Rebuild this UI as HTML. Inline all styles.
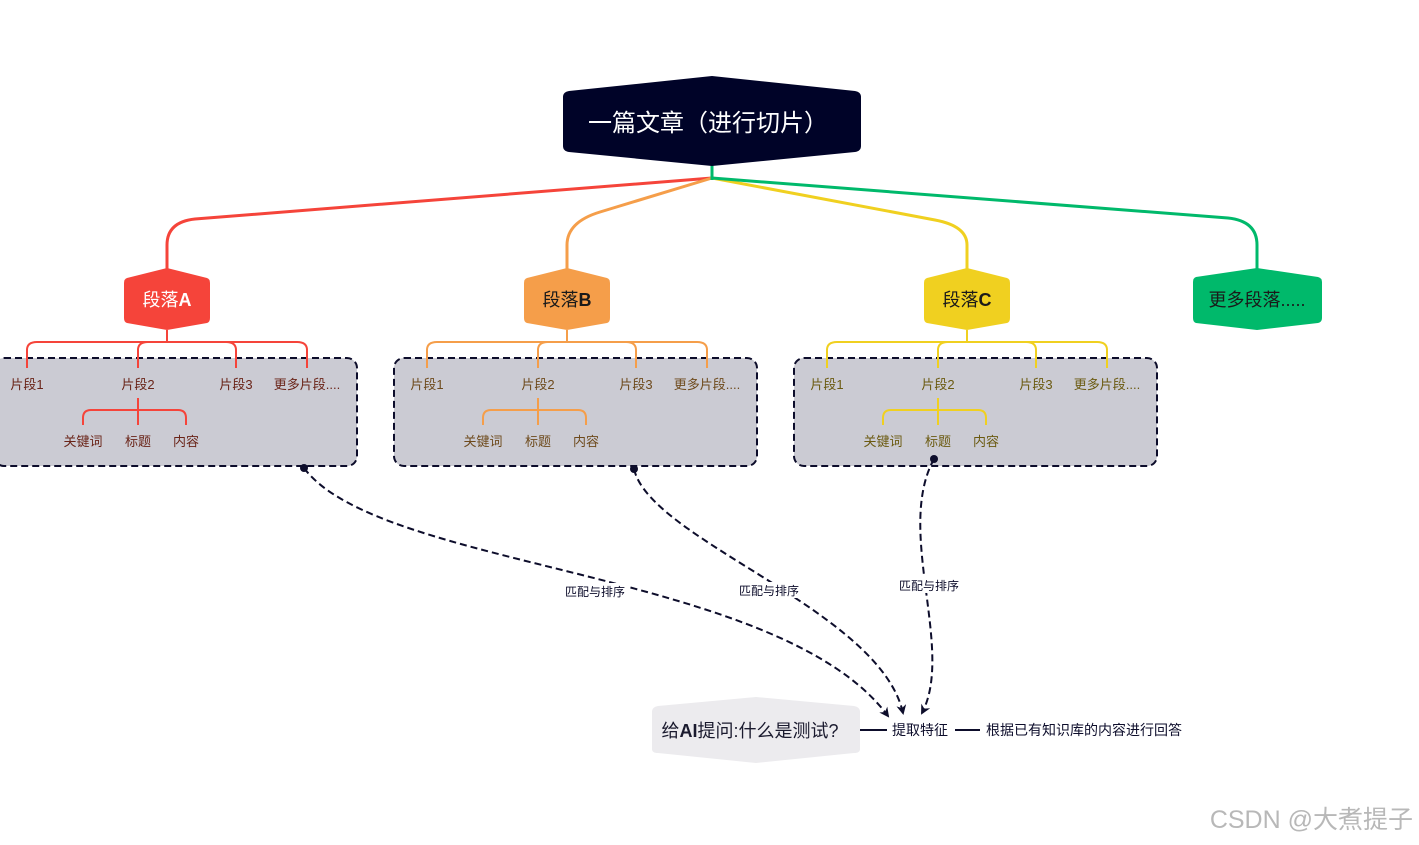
<!DOCTYPE html>
<html><head><meta charset="utf-8"><style>
html,body{margin:0;padding:0;background:#fff;}
svg{display:block;font-family:"Liberation Sans","Noto Sans CJK SC",sans-serif;}
</style></head><body>
<svg width="1419" height="845" viewBox="0 0 1419 845" xmlns="http://www.w3.org/2000/svg">
<defs>
<g id="grp">
  <rect x="-6" y="358" width="363" height="108" rx="10" fill="#cbcbd3" stroke="#0d0d2b" stroke-width="2" stroke-dasharray="7,4"/>
</g>
<marker id="ar" markerWidth="10" markerHeight="10" refX="8" refY="5" orient="auto" markerUnits="userSpaceOnUse"><path d="M0,0 L10,5 L0,10 L3,5 Z" fill="#0d0d2b"/></marker>
</defs>

<g fill="none" stroke-width="3">
<path d="M712,178 L195,219 Q167,222 167,245 L167,270" stroke="#f5443a"/>
<path d="M712,178 L600,212 Q567,222 567,245 L567,270" stroke="#f59e4a"/>
<path d="M712,178 L935,220 Q967,226 967,245 L967,270" stroke="#f0d020"/>
<path d="M712,178 L1228,218 Q1257,221 1257,245 L1257,270" stroke="#00b96b"/>
<path d="M712,164 L712,180" stroke="#00b96b"/>
</g>

<path d="M712,76 L855,91 Q861,92 861,97 L861,146 Q861,151 855,152 L712,166 L569,152 Q563,151 563,146 L563,97 Q563,92 569,91 Z" fill="#000328"/>
<text x="708" y="131" font-size="24" fill="#fff" text-anchor="middle">一篇文章（进行切片）</text>

<path d="M167,268 L207,278 Q210,279 210,283 L210,318 Q210,322 207,323 L167,330 L127,323 Q124,322 124,318 L124,283 Q124,279 127,278 Z" fill="#f5443a"/>
<text x="167" y="306" font-size="18" fill="#fff" text-anchor="middle">段落<tspan font-weight="bold">A</tspan></text>
<path d="M567,268 L607,278 Q610,279 610,283 L610,318 Q610,322 607,323 L567,330 L527,323 Q524,322 524,318 L524,283 Q524,279 527,278 Z" fill="#f59e4a"/>
<text x="567" y="306" font-size="18" fill="#1a1a1a" text-anchor="middle">段落<tspan font-weight="bold">B</tspan></text>
<path d="M967,268 L1007,278 Q1010,279 1010,283 L1010,318 Q1010,322 1007,323 L967,330 L927,323 Q924,322 924,318 L924,283 Q924,279 927,278 Z" fill="#f0d020"/>
<text x="967" y="306" font-size="18" fill="#1a1a1a" text-anchor="middle">段落<tspan font-weight="bold">C</tspan></text>
<path d="M1257,268 L1318,277 Q1322,278 1322,282 L1322,318 Q1322,322 1318,323 L1257,330 L1196,323 Q1193,322 1193,318 L1193,282 Q1193,278 1196,277 Z" fill="#00b96b"/>
<text x="1257" y="306" font-size="18" fill="#1a1a1a" text-anchor="middle">更多段落.....</text>

<g transform="translate(0,0)">
  <use href="#grp"/>
  <g fill="none" stroke="#f5443a" stroke-width="2">
    <path d="M167,330 L167,342 M37,342 L297,342 M27,368 L27,350 Q27,342 37,342 M297,342 Q307,342 307,350 L307,368 M138,368 L138,350 Q138,342 148,342 M226,342 Q236,342 236,350 L236,368"/>
    <path d="M138,398 L138,425 M83,425 L83,418 Q83,410 91,410 L178,410 Q186,410 186,418 L186,425"/>
  </g>
  <g font-size="13" fill="#6a2418" text-anchor="middle">
    <text x="27" y="389">片段1</text><text x="138" y="389">片段2</text><text x="236" y="389">片段3</text><text x="307" y="389">更多片段....</text>
    <text x="83" y="446">关键词</text><text x="138" y="446">标题</text><text x="186" y="446">内容</text>
  </g>
</g>
<g transform="translate(400,0)">
  <use href="#grp"/>
  <g fill="none" stroke="#f59e4a" stroke-width="2">
    <path d="M167,330 L167,342 M37,342 L297,342 M27,368 L27,350 Q27,342 37,342 M297,342 Q307,342 307,350 L307,368 M138,368 L138,350 Q138,342 148,342 M226,342 Q236,342 236,350 L236,368"/>
    <path d="M138,398 L138,425 M83,425 L83,418 Q83,410 91,410 L178,410 Q186,410 186,418 L186,425"/>
  </g>
  <g font-size="13" fill="#6e4a1c" text-anchor="middle">
    <text x="27" y="389">片段1</text><text x="138" y="389">片段2</text><text x="236" y="389">片段3</text><text x="307" y="389">更多片段....</text>
    <text x="83" y="446">关键词</text><text x="138" y="446">标题</text><text x="186" y="446">内容</text>
  </g>
</g>
<g transform="translate(800,0)">
  <use href="#grp"/>
  <g fill="none" stroke="#f0d020" stroke-width="2">
    <path d="M167,330 L167,342 M37,342 L297,342 M27,368 L27,350 Q27,342 37,342 M297,342 Q307,342 307,350 L307,368 M138,368 L138,350 Q138,342 148,342 M226,342 Q236,342 236,350 L236,368"/>
    <path d="M138,398 L138,425 M83,425 L83,418 Q83,410 91,410 L178,410 Q186,410 186,418 L186,425"/>
  </g>
  <g font-size="13" fill="#6b5a10" text-anchor="middle">
    <text x="27" y="389">片段1</text><text x="138" y="389">片段2</text><text x="236" y="389">片段3</text><text x="307" y="389">更多片段....</text>
    <text x="83" y="446">关键词</text><text x="138" y="446">标题</text><text x="186" y="446">内容</text>
  </g>
</g>

<g fill="none" stroke="#0d0d2b" stroke-width="2" stroke-dasharray="7,4">
  <path d="M304,468 C380,570 780,570 888,716" marker-end="url(#ar)"/>
  <path d="M634,469 C650,540 880,610 903,713" marker-end="url(#ar)"/>
  <path d="M934,459 C895,530 955,650 922,713" marker-end="url(#ar)"/>
</g>
<circle cx="304" cy="468" r="4" fill="#0d0d2b"/>
<circle cx="634" cy="469" r="4" fill="#0d0d2b"/>
<circle cx="934" cy="459" r="4" fill="#0d0d2b"/>
<g font-size="12" fill="#0d0d2b" text-anchor="middle">
  <rect x="560" y="583" width="70" height="16" fill="#fff"/><text x="595" y="596">匹配与排序</text>
  <rect x="734" y="582" width="70" height="16" fill="#fff"/><text x="769" y="595">匹配与排序</text>
  <rect x="894" y="577" width="70" height="16" fill="#fff"/><text x="929" y="590">匹配与排序</text>
</g>

<path d="M756,697 L854,706 Q860,707 860,712 L860,749 Q860,753 854,753 L756,763 L658,753 Q652,753 652,749 L652,712 Q652,707 658,706 Z" fill="#ecebee"/>
<text x="750" y="737" font-size="18" fill="#1a1a2e" text-anchor="middle">给<tspan font-weight="bold">AI</tspan>提问:什么是测试?</text>
<path d="M860,730 L887,730 M955,730 L980,730" stroke="#0d0d2b" stroke-width="2"/>
<text x="892" y="735" font-size="14" fill="#0d0d2b">提取特征</text>
<text x="986" y="735" font-size="14" fill="#0d0d2b">根据已有知识库的内容进行回答</text>

<text x="1413" y="828" font-size="25" fill="#b8b8b8" text-anchor="end">CSDN @大煮提子</text>
</svg>
</body></html>
